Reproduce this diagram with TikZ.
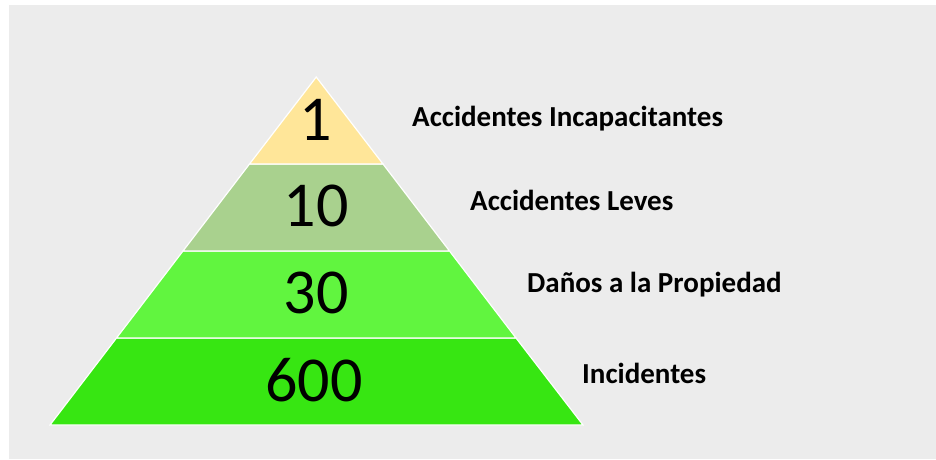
\documentclass[tikz,border=0pt]{standalone}
\usepackage{fontspec}
\setmainfont{Carlito}
\definecolor{bggray}{HTML}{ECECEC}
\definecolor{tierA}{HTML}{FFE699}
\definecolor{tierB}{HTML}{A9D18E}
\definecolor{tierC}{HTML}{61F53F}
\definecolor{tierD}{HTML}{37E612}
\tikzset{
  tier/.style={draw=white, line width=1.2pt, line join=miter},
  num/.style={font=\fontsize{64}{64}\selectfont, text=black, inner sep=0pt},
  lbl/.style={font=\fontsize{29}{29}\bfseries\selectfont, text=black, anchor=west, inner sep=0pt}
}
\begin{document}
\begin{tikzpicture}[x=1pt,y=1pt]
\useasboundingbox (0,0) rectangle (936,459);
\fill[white] (0,0) rectangle (936,459);
\fill[bggray] (9,0) rectangle (936,454);
% tiers (y = 459 - pixel y)
\filldraw[tier, fill=tierD] (50,34) -- (583,34) -- (516,121) -- (116.5,121) -- cycle;
\filldraw[tier, fill=tierC] (116.5,121) -- (516,121) -- (449.5,208) -- (183,208) -- cycle;
\filldraw[tier, fill=tierB] (183,208) -- (449.5,208) -- (383,295) -- (249.5,295) -- cycle;
\filldraw[tier, fill=tierA] (249.5,295) -- (383,295) -- (316.25,382) -- cycle;
\node[num] (n1) at (316,339) {1};
\node[num] (n10) at (316,253) {10};
\node[num] (n30) at (316,166) {30};
\node[num] (n600) at (314,79) {600};
\node[lbl] (l1) at (412,340) {Accidentes Incapacitantes};
\node[lbl] (l2) at (470,259) {Accidentes Leves};
\node[lbl] (l3) at (527,174) {Daños a la Propiedad};
\node[lbl] (l4) at (582,86) {Incidentes};
\end{tikzpicture}
\end{document}
